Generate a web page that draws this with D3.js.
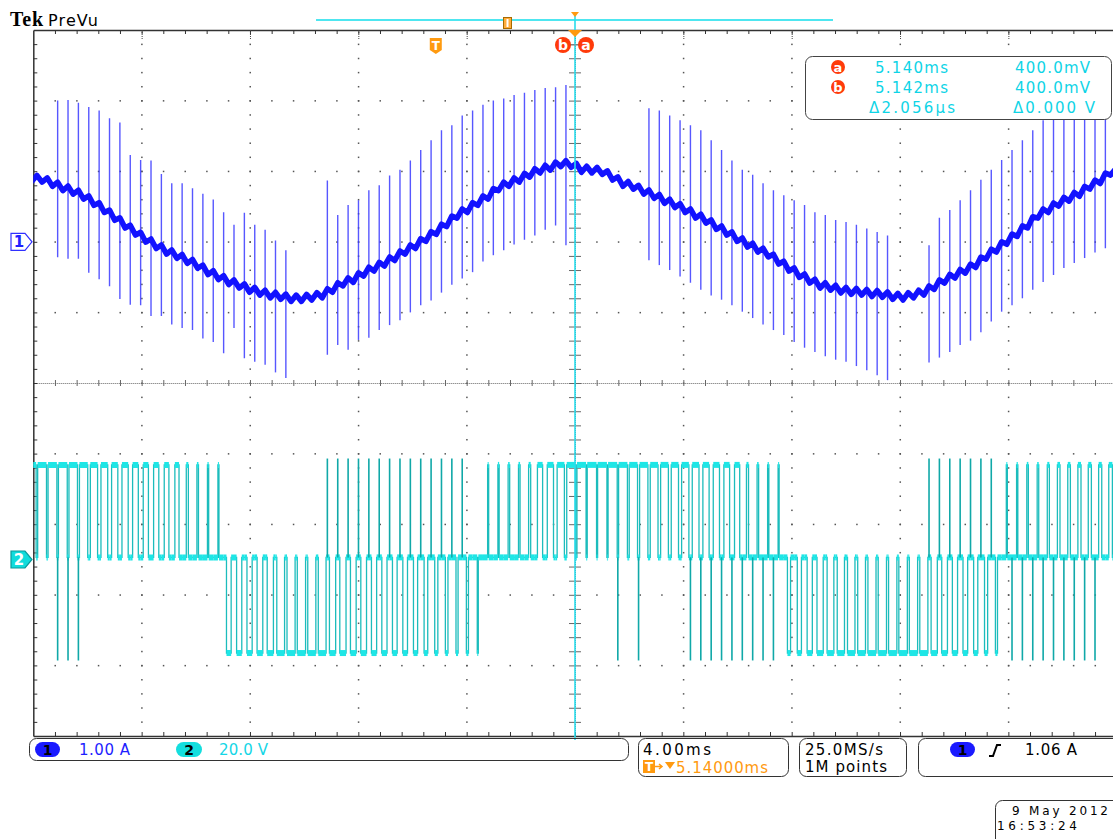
<!DOCTYPE html>
<html>
<head>
<meta charset="utf-8">
<script src="https://cdn.jsdelivr.net/npm/d3@7"></script>
<style>
  body { margin: 0; background: #fff; }
  svg { display: block; font-family: "DejaVu Sans", sans-serif; }
</style>
</head>
<body>
<script>
// window size
var width = 1113,
    height = 839;

// graticule edges, 10 x 10 divisions (right edge is just off screen)
var plotLeft = 33.3, plotRight = 1116.7, plotTop = 30, plotBottom = 736;

// 4.00 ms/div, trigger at 0 ms, screen centre at 5.14 ms
var timeDomain = [-14.86, 25.14];
// ch1 1.00 A/div (ground 3 div from top), ch2 20.0 V/div (ground 7.5 div from top)
var ch1Domain = [-7, 3];
var ch2Domain = [-50, 150];

// pwm switching period (ms) and start of the first period on screen
var pwmPeriod = 0.383;
var pwmStart = -15.11;

// ch1 current (A): centre of the trace in each switching period
var ch1Values = [
  0.90, 0.89, 0.83, 0.77, 0.72, 0.65, 0.56, 0.46, 0.35, 0.24,
  0.14, 0.04, -0.05, -0.13, -0.19, -0.26, -0.33, -0.42, -0.49, -0.56,
  -0.61, -0.67, -0.71, -0.75, -0.77, -0.80, -0.80, -0.78, -0.75, -0.67,
  -0.58, -0.53, -0.44, -0.37, -0.30, -0.22, -0.13, -0.05, 0.05, 0.15,
  0.26, 0.38, 0.46, 0.56, 0.65, 0.77, 0.83, 0.89, 0.96, 1.02,
  1.06, 1.11, 1.10, 1.03, 1.02, 1.00, 0.92, 0.83, 0.79, 0.72,
  0.66, 0.59, 0.53, 0.46, 0.38, 0.31, 0.22, 0.14, 0.05, -0.03,
  -0.10, -0.17, -0.27, -0.37, -0.46, -0.54, -0.61, -0.64, -0.68, -0.70,
  -0.71, -0.73, -0.74, -0.77, -0.78, -0.75, -0.71, -0.63, -0.54, -0.47,
  -0.40, -0.32, -0.20, -0.10, 0.01, 0.12, 0.24, 0.38, 0.46, 0.55,
  0.62, 0.69, 0.79, 0.87, 0.99
];
// half height of the ripple inside one period (A)
var ch1Ripple = 0.045;
// switching spikes: reach above / below the trace (A), null = no spike
var ch1SpikeUp = [
  null, null, null,
  1.23, 1.29, 1.32, 1.35, 1.40, 1.40, 1.45,
  1.09, 1.12, 1.20, 1.09, 1.02, 1.09, 1.09, 1.10, 1.09, 0.98,
  0.85, 1.08, 0.95, 0.92, 0.79, 0.68,
  null, null, null,
  1.54, 0.96, 1.05, 1.03, 1.10, 1.10, 1.16, 1.15, 1.20, 1.25,
  1.29, 1.32, 1.27, 1.33, 1.30, 1.29, 1.23, 1.20, 1.19, 1.15,
  1.13, 1.12, 1.08, 1.12,
  null, null, null, null, null, null, null,
  1.23, 1.27, 1.26, 1.26, 1.27, 1.27, 1.22, 1.16, 1.10, 1.05,
  1.05, 1.00, 1.00, 1.03, 1.05, 1.06, 1.03, 1.02, 0.99, 0.98,
  0.95, 0.92, 0.88, 0.86,
  null, null, null,
  0.58, 0.88, 0.92, 0.99, 1.05, 1.08, 1.12, 1.15, 1.18, 1.20,
  1.20, 1.26, 1.29, 1.32, 1.32, 1.25, 1.20, 1.09
];
var ch1SpikeDown = [
  null, null, null,
  0.99, 0.96, 0.89, 1.00, 0.99, 0.98, 1.05,
  1.03, 0.94, 1.00, 0.92, 0.98, 0.96, 0.92, 0.95, 0.93, 1.02,
  0.61, 0.98, 0.99, 0.99, 1.08, 1.13,
  null, null, null,
  0.93, 0.88, 1.00, 0.95, 0.99, 0.95, 0.96, 0.98, 0.95, 0.95,
  0.98, 0.98, 0.99, 0.98, 0.99, 0.93, 0.96, 0.95, 0.93, 0.93,
  0.93, 0.89, 0.88, 1.15,
  null, null, null, null, null, null, null,
  0.92, 0.92, 0.93, 0.95, 0.96, 0.99, 0.98, 0.96, 0.95, 0.96,
  0.98, 1.00, 0.98, 0.95, 0.96, 0.96, 0.95, 0.98, 0.99, 1.00,
  1.05, 1.09, 1.15, 1.19,
  null, null, null,
  1.08, 1.10, 1.09, 1.06, 1.08, 1.08, 1.03, 1.00, 1.02, 1.04,
  1.06, 1.03, 1.02, 0.99, 0.99, 1.02, 1.02, 1.08
];

// ch2 voltage levels (V)
var ch2Levels = { H: 26.8, M: 0.6, L: -26.5 };
var ch2SpikeLevels = { H: 28.6, L: -28.6 };
// runs of periods: P switches between M and H, N between M and L
var ch2Runs = [["P", 19], ["N", 25], ["P", 29], ["N", 21], ["P", 11]];
// part of each period spent at the outer level (H for P, L for N)
var ch2Duty = [
  0.85, 0.85, 0.85, 0.85, 0.82, 0.80,
  0.70, 0.65, 0.60, 0.60, 0.55, 0.50, 0.50, 0.45, 0.40,
  0.20, 0.15, 0.12, 0.10,
  0.45, 0.50, 0.50, 0.55, 0.60,
  0.75, 0.78, 0.80, 0.78, 0.75,
  0.60, 0.60, 0.55, 0.55, 0.50, 0.50, 0.45,
  0.45, 0.40, 0.35, 0.30, 0.25, 0.20, 0.20, 0.10,
  0.10, 0.12, 0.15, 0.15, 0.20,
  0.50, 0.60, 0.70,
  0.85, 0.88, 0.90, 0.90, 0.88,
  0.85, 0.80, 0.80, 0.75, 0.75, 0.70, 0.70, 0.65, 0.60, 0.60, 0.55, 0.50,
  0.20, 0.15, 0.12, 0.10,
  0.30, 0.40, 0.50,
  0.60, 0.65, 0.70, 0.72, 0.75, 0.78,
  0.80, 0.80, 0.82, 0.80, 0.78,
  0.60, 0.55, 0.50, 0.45, 0.40, 0.30, 0.20,
  0.10, 0.12, 0.15, 0.15, 0.20, 0.25, 0.25, 0.30, 0.30, 0.30, 0.35
];
// narrow spikes at the start of a period: [first period, last period, level]
var ch2Spikes = [[3, 5, "L"], [29, 42, "H"], [57, 57, "L"], [59, 59, "L"],
                 [64, 72, "L"], [87, 93, "H"], [95, 103, "L"]];

// trigger and cursors
var triggerTime = 0;
var cursorTime = 5.140;
var readout = [
  ["a", "5.140ms", "400.0mV"],
  ["b", "5.142ms", "400.0mV"],
  ["", "\u03942.056\u00b5s", "\u03940.000 V"]
];

var svg = d3.select("body").append("svg")
    .attr("width", width)
    .attr("height", height);

var x = d3.scaleLinear().domain(timeDomain).range([plotLeft, plotRight]);
var y1 = d3.scaleLinear().domain(ch1Domain).range([plotBottom, plotTop]);
var y2 = d3.scaleLinear().domain(ch2Domain).range([plotBottom, plotTop]);

svg.append("clipPath").attr("id", "plot")
  .append("rect")
    .attr("x", plotLeft).attr("y", plotTop)
    .attr("width", plotRight - plotLeft).attr("height", plotBottom - plotTop);

// graticule positions in data units
var divT = (timeDomain[1] - timeDomain[0]) / 10,
    divA = (ch1Domain[1] - ch1Domain[0]) / 10;
var minorT = d3.range(1, 50).map(function (i) { return timeDomain[0] + i * divT / 5; });
var minorA = d3.range(1, 50).map(function (i) { return ch1Domain[0] + i * divA / 5; });
var majorT = d3.range(1, 10).filter(function (i) { return i != 5; })
    .map(function (i) { return timeDomain[0] + i * divT; });
var majorA = d3.range(1, 10).filter(function (i) { return i != 5; })
    .map(function (i) { return ch1Domain[0] + i * divA; });
var centreT = timeDomain[0] + 5 * divT,
    centreA = ch1Domain[0] + 5 * divA;

var grid = svg.append("g").attr("fill", "#555");
majorT.forEach(function (t) {
  grid.selectAll(null).data(minorA).enter().append("rect")
    .attr("x", x(t) - 0.5).attr("y", function (d) { return y1(d) - 0.5; })
    .attr("width", 1.5).attr("height", 1.5);
});
majorA.forEach(function (a) {
  grid.selectAll(null).data(minorT).enter().append("rect")
    .attr("x", function (d) { return x(d) - 0.5; }).attr("y", y1(a) - 0.5)
    .attr("width", 1.5).attr("height", 1.5);
});

// centre cross: dotted lines with ticks
grid.append("line")
  .attr("x1", plotLeft).attr("x2", plotRight)
  .attr("y1", y1(centreA) + 0.5).attr("y2", y1(centreA) + 0.5)
  .attr("stroke", "#666").attr("stroke-dasharray", "1,1");
grid.append("line")
  .attr("x1", x(centreT) + 0.5).attr("x2", x(centreT) + 0.5)
  .attr("y1", plotTop).attr("y2", plotBottom)
  .attr("stroke", "#666").attr("stroke-dasharray", "1,1");
grid.append("g").attr("color", "#666")
  .attr("transform", "translate(0," + (y1(centreA) - 3) + ")")
  .call(d3.axisBottom(x).tickValues(minorT).tickSize(6).tickFormat(""))
  .call(function (g) { g.select(".domain").remove(); });
grid.append("g").attr("color", "#666")
  .attr("transform", "translate(" + (x(centreT) - 6) + ",0)")
  .call(d3.axisRight(y1).tickValues(minorA).tickSize(12).tickFormat(""))
  .call(function (g) { g.select(".domain").remove(); });

// frame with ticks
var frame = svg.append("g").attr("color", "#333");
frame.append("g").attr("transform", "translate(0," + plotTop + ")")
  .call(d3.axisBottom(x).tickValues(minorT).tickSize(4).tickSizeOuter(0).tickFormat(""));
frame.append("g").attr("transform", "translate(0," + plotBottom + ")")
  .call(d3.axisTop(x).tickValues(minorT).tickSize(4).tickSizeOuter(0).tickFormat(""));
frame.append("g").attr("transform", "translate(" + plotLeft + ",0)")
  .call(d3.axisRight(y1).tickValues(minorA).tickSize(4).tickSizeOuter(0).tickFormat(""));
frame.selectAll(".domain").attr("stroke-width", 1.5);
frame.selectAll(null).data(majorT.concat([centreT])).enter().append("line")
  .attr("x1", function (d) { return x(d) + 0.5; }).attr("x2", function (d) { return x(d) + 0.5; })
  .attr("y1", plotTop).attr("y2", plotTop + 10)
  .attr("stroke", "#444").attr("stroke-dasharray", "1,1");

var traces = svg.append("g").attr("clip-path", "url(#plot)");

// ---- ch2: three level pwm voltage ----
var ch2Pair = [];
ch2Runs.forEach(function (r) {
  for (var i = 0; i < r[1]; i++) ch2Pair.push(r[0]);
});

var ch2Edges = [], ch2Flats = [];
ch2Duty.forEach(function (d, k) {
  var t0 = pwmStart + k * pwmPeriod,
      ta = t0 + (1 - d) / 2 * pwmPeriod,
      tb = t0 + (1 + d) / 2 * pwmPeriod,
      t1 = t0 + pwmPeriod,
      outer = ch2Pair[k] == "P" ? ch2Levels.H : ch2Levels.L,
      mid = ch2Levels.M;
  ch2Edges.push([t0, mid], [ta, mid], [ta, outer], [tb, outer], [tb, mid], [t1, mid]);
  ch2Flats.push([t0, ta, mid], [ta, tb, outer], [tb, t1, mid]);
});

var line2 = d3.line()
    .x(function (d) { return x(d[0]); })
    .y(function (d) { return y2(d[1]); });

traces.append("path")
  .attr("d", line2(ch2Edges))
  .attr("fill", "none")
  .attr("stroke", "#1cbcbc")
  .attr("stroke-width", 1.3);

traces.selectAll(null).data(ch2Flats).enter().append("line")
  .attr("x1", function (d) { return x(d[0]); })
  .attr("x2", function (d) { return x(d[1]); })
  .attr("y1", function (d) { return y2(d[2]); })
  .attr("y2", function (d) { return y2(d[2]); })
  .attr("stroke", "#1ee6e6")
  .attr("stroke-width", 6);

var ch2SpikeList = [];
ch2Spikes.forEach(function (s) {
  for (var k = s[0]; k <= s[1]; k++) ch2SpikeList.push([pwmStart + k * pwmPeriod, ch2SpikeLevels[s[2]]]);
});
traces.selectAll(null).data(ch2SpikeList).enter().append("line")
  .attr("x1", function (d) { return x(d[0]); })
  .attr("x2", function (d) { return x(d[0]); })
  .attr("y1", y2(ch2Levels.M))
  .attr("y2", function (d) { return y2(d[1]); })
  .attr("stroke", "#10a8a8")
  .attr("stroke-width", 1.6);

// ---- ch1: load current ----
var ch1Points = [];
ch1Values.forEach(function (v, k) {
  var t0 = pwmStart + k * pwmPeriod;
  var start = k > 0 ? (ch1Values[k - 1] + v) / 2 : v;
  ch1Points.push([t0, start + ch1Ripple], [t0 + pwmPeriod / 2, v - ch1Ripple]);
});
ch1Points.push([pwmStart + ch1Values.length * pwmPeriod,
                ch1Values[ch1Values.length - 1] + ch1Ripple]);

var ch1SpikeList = [];
ch1Values.forEach(function (v, k) {
  if (ch1SpikeUp[k] == null) return;
  ch1SpikeList.push([pwmStart + k * pwmPeriod, v + ch1SpikeUp[k], v - ch1SpikeDown[k]]);
});

traces.selectAll(null).data(ch1SpikeList).enter().append("line")
  .attr("x1", function (d) { return x(d[0]); })
  .attr("x2", function (d) { return x(d[0]); })
  .attr("y1", function (d) { return y1(d[1]); })
  .attr("y2", function (d) { return y1(d[2]); })
  .attr("stroke", "#3a3aff")
  .attr("stroke-opacity", 0.85)
  .attr("stroke-width", 1.4);

var line1 = d3.line()
    .x(function (d) { return x(d[0]); })
    .y(function (d) { return y1(d[1]); });

traces.append("path")
  .attr("d", line1(ch1Points))
  .attr("fill", "none")
  .attr("stroke", "#1212ff")
  .attr("stroke-width", 5.5)
  .attr("stroke-linejoin", "round");

// ---- channel ground markers ----
function marker(cy, fill, stroke, label, textFill) {
  var p = "M11," + (cy - 8.5) + "H25L32," + cy + "L25," + (cy + 8.5) + "H11Z";
  svg.append("path").attr("d", p).attr("fill", fill).attr("stroke", stroke).attr("stroke-width", 1.2);
  svg.append("text").attr("x", 19).attr("y", cy + 5.5).attr("text-anchor", "middle")
    .attr("font-size", 15).attr("font-weight", "bold").attr("fill", textFill).text(label);
}
marker(y1(0), "#fff", "#3030ff", "1", "#2020ff");
marker(y2(0), "#10dcdc", "#0a9a9a", "2", "#fff");

// ---- cursor, trigger and record view ----
var cx = x(cursorTime), tx = x(triggerTime);

svg.append("line").attr("x1", 316).attr("x2", 833).attr("y1", 20).attr("y2", 20)
  .attr("stroke", "#4ee6f0").attr("stroke-width", 2);
svg.append("rect").attr("x", 503.5).attr("y", 17.5).attr("width", 8).attr("height", 11)
  .attr("fill", "#ffac3c").attr("stroke", "#a86a00");
svg.append("line").attr("x1", 507.5).attr("x2", 507.5).attr("y1", 19).attr("y2", 27)
  .attr("stroke", "#fff").attr("stroke-width", 2);

svg.append("line").attr("x1", cx).attr("x2", cx).attr("y1", 14).attr("y2", 740)
  .attr("stroke", "#2adcec").attr("stroke-width", 1.6);
svg.append("path").attr("d", "M" + (cx - 4) + ",12H" + (cx + 4) + "L" + cx + ",17Z").attr("fill", "#ff9a10");
svg.append("path").attr("d", "M" + (cx - 7) + ",30H" + (cx + 7) + "L" + cx + ",37Z").attr("fill", "#ff9a10");

svg.append("path")
  .attr("d", "M" + (tx - 6) + ",38H" + (tx + 6) + "V50L" + tx + ",54L" + (tx - 6) + ",50Z")
  .attr("fill", "#ff9a10");
svg.append("text").attr("x", tx).attr("y", 50).attr("text-anchor", "middle")
  .attr("font-size", 12).attr("font-weight", "bold").attr("fill", "#fff").text("T");

svg.append("line").attr("x1", cx - 5).attr("x2", cx + 5).attr("y1", 45).attr("y2", 45)
  .attr("stroke", "#888").attr("stroke-width", 1);
[["b", cx - 12], ["a", cx + 11]].forEach(function (c) {
  svg.append("circle").attr("cx", c[1]).attr("cy", 45).attr("r", 8).attr("fill", "#ff3a0a");
  svg.append("text").attr("x", c[1]).attr("y", 50).attr("text-anchor", "middle")
    .attr("font-size", 14).attr("font-weight", "bold").attr("fill", "#fff").text(c[0]);
});

// ---- header ----
svg.append("text").attr("x", 10).attr("y", 26)
  .attr("font-family", "Liberation Serif").attr("font-weight", "bold").attr("font-size", 20)
  .attr("textLength", 33).text("Tek");
svg.append("text").attr("x", 48).attr("y", 26).attr("font-size", 16)
  .attr("textLength", 50).text("PreVu");

// ---- cursor readout ----
svg.append("rect").attr("x", 805.5).attr("y", 56.5).attr("width", 306).attr("height", 63)
  .attr("rx", 7).attr("fill", "#fff").attr("stroke", "#444");
var readWidths = [[73, 75], [73, 75], [86, 82]];
readout.forEach(function (r, i) {
  var base = 73 + i * 20;
  if (r[0]) {
    svg.append("circle").attr("cx", 838).attr("cy", base - 6).attr("r", 7).attr("fill", "#ff3a0a");
    svg.append("text").attr("x", 838).attr("y", base - 1.5).attr("text-anchor", "middle")
      .attr("font-size", 13).attr("font-weight", "bold").attr("fill", "#fff").text(r[0]);
  }
  svg.append("text").attr("x", i == 2 ? 869 : 875).attr("y", base).attr("font-size", 15)
    .attr("fill", "#0ed4e6").attr("textLength", readWidths[i][0]).text(r[1]);
  svg.append("text").attr("x", i == 2 ? 1013 : 1015).attr("y", base).attr("font-size", 15)
    .attr("fill", "#0ed4e6").attr("textLength", readWidths[i][1]).text(r[2]);
});

// ---- status bar ----
function box(x0, y0, w, h) {
  svg.append("rect").attr("x", x0).attr("y", y0).attr("width", w).attr("height", h)
    .attr("rx", 7).attr("fill", "none").attr("stroke", "#333");
}
function label(x0, y0, w, txt, fill) {
  return svg.append("text").attr("x", x0).attr("y", y0).attr("font-size", 15)
    .attr("fill", fill || "#000").attr("textLength", w).text(txt);
}
function pill(x0, y0, w, fill, txt) {
  svg.append("rect").attr("x", x0).attr("y", y0).attr("width", w).attr("height", 15)
    .attr("rx", 7.5).attr("fill", fill);
  svg.append("text").attr("x", x0 + w / 2).attr("y", y0 + 12.5).attr("text-anchor", "middle")
    .attr("font-size", 14).attr("font-weight", "bold").attr("fill", "#000").text(txt);
}

box(29.5, 738.5, 599, 22);
pill(35, 742, 25, "#1a1aff", "1");
label(79, 755, 51, "1.00 A", "#1f1fff");
pill(176, 742, 26, "#14dede", "2");
label(219, 755, 49, "20.0 V", "#14d6e6");

box(638.5, 738.5, 150, 38);
label(643, 755, 68, "4.00ms");
svg.append("rect").attr("x", 643).attr("y", 760).attr("width", 12).attr("height", 13).attr("fill", "#ff9a10");
svg.append("text").attr("x", 649).attr("y", 771).attr("text-anchor", "middle")
  .attr("font-size", 12).attr("font-weight", "bold").attr("fill", "#fff").text("T");
svg.append("path").attr("d", "M655,766.5H661M659,764L662,766.5L659,769")
  .attr("fill", "none").attr("stroke", "#ff9a10").attr("stroke-width", 1.5);
svg.append("path").attr("d", "M665,762H675L670,769Z").attr("fill", "#ff9a10");
label(676, 773, 92, "5.14000ms", "#ff9a10");

box(799.5, 738.5, 107, 38);
label(805, 755, 78, "25.0MS/s");
label(805, 772, 82, "1M points");

box(918.5, 738.5, 230, 38);
pill(950, 742, 25, "#1a1aff", "1");
svg.append("path").attr("d", "M989,756H993L997,745H1001")
  .attr("fill", "none").attr("stroke", "#000").attr("stroke-width", 2);
label(1025, 755, 52, "1.06 A");

box(995.5, 800.5, 140, 50);
svg.append("text").attr("x", 1012).attr("y", 815).attr("font-size", 12)
  .attr("textLength", 96).text("9 May 2012");
svg.append("text").attr("x", 997).attr("y", 830).attr("font-size", 12)
  .attr("textLength", 80).text("16:53:24");
</script>
</body>
</html>
